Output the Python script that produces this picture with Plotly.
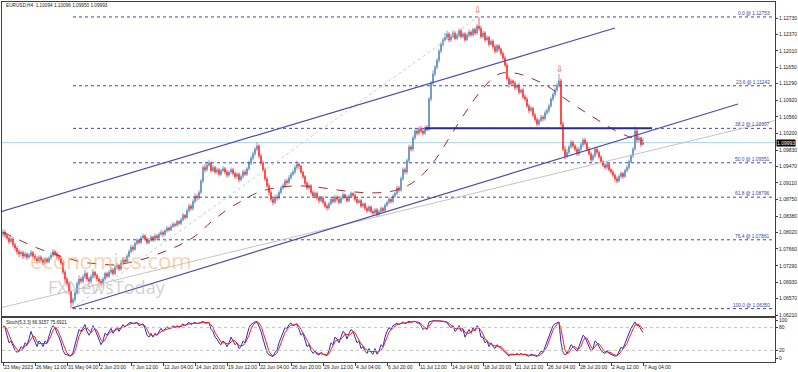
import plotly.graph_objects as go

# ---------------- data (prices in units of 0.0001) ----------------
FIRST_OPEN = 10798
CLOSES = [
10803,10796,10790,10782,10788,10775,10768,10760,10755,10758,10750,10755,10748,10752,10758,10750,
10745,10740,10748,10742,10736,10744,10738,10746,10752,10760,10756,10750,10745,10735,10715,10700,
10690,10672,10648,10655,10670,10690,10700,10695,10705,10712,10700,10695,10705,10715,10708,10700,
10695,10690,10700,10712,10706,10715,10720,10712,10725,10730,10722,10735,10742,10738,10750,10760,
10770,10765,10778,10785,10780,10790,10795,10788,10780,10785,10792,10786,10795,10790,10798,10802,
10798,10806,10812,10808,10815,10820,10818,10826,10822,10830,10840,10835,10850,10860,10855,10870,
10882,10878,10890,10915,10945,10940,10950,10955,10938,10945,10935,10940,10930,10938,10942,10935,
10928,10935,10940,10932,10925,10930,10918,10925,10935,10930,10942,10955,10965,10975,10985,10992,
10970,10955,10940,10920,10905,10890,10875,10868,10880,10878,10890,10900,10905,10915,10912,10922,
10930,10935,10945,10952,10948,10935,10925,10910,10900,10905,10890,10882,10888,10878,10872,10878,
10868,10860,10856,10865,10875,10870,10880,10875,10868,10878,10885,10880,10872,10882,10888,10884,
10875,10868,10872,10860,10865,10855,10850,10858,10848,10845,10852,10842,10848,10855,10850,10862,
10868,10875,10870,10882,10888,10900,10895,10920,10940,10935,10960,10990,10985,11010,11025,11020,
11030,11025,11020,11032,11028,11095,11130,11150,11165,11180,11200,11215,11225,11230,11238,11225,
11232,11240,11228,11235,11245,11232,11238,11225,11235,11242,11236,11248,11240,11255,11250,11232,
11240,11225,11230,11215,11222,11210,11200,11212,11205,11195,11185,11170,11140,11128,11135,11130,
11120,11125,11110,11115,11100,11095,11080,11070,11075,11060,11050,11040,11048,11055,11052,11065,
11070,11080,11095,11105,11115,11125,11135,11040,10985,10970,10978,10990,11000,10992,10985,10975,
10985,10995,11005,10998,10985,10975,10962,10970,10985,10978,10968,10958,10950,10945,10952,10940,
10935,10928,10920,10915,10925,10932,10925,10938,10945,10958,10970,10985,11025,11005,11010,10995,10999]
HIGHS = [
10810,10808,10800,10794,10795,10792,10780,10772,10765,10764,10762,10760,10758,10757,10764,10762,
10755,10750,10752,10752,10746,10748,10748,10750,10758,10766,10764,10760,10754,10750,10740,10720,
10705,10695,10676,10660,10675,10695,10708,10704,10710,10720,10716,10705,10710,10722,10718,10712,
10705,10700,10705,10716,10715,10720,10726,10724,10730,10735,10733,10740,10748,10745,10755,10765,
10776,10774,10782,10790,10788,10795,10800,10798,10792,10790,10797,10795,10800,10798,10803,10808,
10806,10810,10816,10815,10820,10825,10824,10830,10829,10835,10845,10843,10855,10866,10864,10875,
10888,10886,10895,10920,10950,10952,10958,10962,10958,10950,10948,10945,10944,10942,10948,10946,
10940,10938,10945,10944,10936,10935,10934,10930,10940,10940,10946,10960,10970,10980,10990,11000,
10996,10975,10960,10945,10925,10910,10895,10880,10885,10886,10895,10905,10910,10920,10920,10928,
10935,10940,10950,10960,10956,10950,10938,10928,10915,10910,10908,10895,10892,10892,10882,10882,
10882,10872,10865,10870,10880,10880,10885,10884,10878,10882,10890,10888,10884,10886,10892,10890,
10888,10880,10876,10876,10868,10868,10860,10862,10862,10852,10856,10856,10852,10860,10858,10866,
10872,10880,10878,10886,10892,10905,10904,10925,10945,10945,10965,10995,10995,11015,11030,11030,
11035,11036,11030,11036,11038,11100,11135,11158,11170,11185,11205,11220,11230,11240,11245,11242,
11238,11246,11244,11240,11250,11250,11242,11242,11240,11248,11246,11252,11252,11260,11275,11256,
11245,11244,11235,11234,11226,11226,11215,11216,11215,11208,11200,11190,11175,11145,11140,11138,
11135,11128,11130,11118,11120,11105,11100,11085,11080,11078,11065,11055,11052,11060,11060,11070,
11075,11085,11100,11110,11120,11130,11150,11140,11045,10992,10985,10995,11006,11004,10996,10990,
10990,11000,11010,11010,11002,10990,10980,10975,10990,10990,10982,10972,10962,10955,10958,10956,
10944,10940,10932,10925,10930,10936,10935,10942,10950,10962,10975,10990,11035,11030,11015,11012,11010]
LOWS = [
10792,10790,10785,10776,10778,10770,10762,10754,10748,10750,10744,10745,10742,10744,10748,10745,
10740,10734,10736,10738,10730,10732,10734,10734,10742,10748,10750,10744,10740,10730,10710,10692,
10684,10666,10636,10642,10650,10665,10686,10690,10690,10700,10696,10688,10690,10700,10702,10695,
10690,10684,10686,10696,10702,10702,10710,10708,10708,10720,10718,10718,10730,10734,10735,10746,
10756,10760,10762,10774,10776,10776,10786,10784,10776,10776,10782,10782,10782,10786,10786,10794,
10792,10794,10802,10804,10805,10812,10814,10815,10818,10818,10826,10830,10832,10846,10850,10850,
10866,10872,10874,10886,10910,10934,10936,10946,10934,10934,10930,10930,10925,10926,10934,10930,
10922,10924,10930,10928,10920,10920,10912,10914,10920,10926,10926,10938,10950,10960,10970,10980,
10965,10950,10935,10915,10900,10884,10870,10862,10864,10872,10874,10886,10896,10900,10906,10908,
10918,10926,10930,10940,10942,10930,10920,10906,10895,10896,10886,10878,10878,10874,10866,10868,
10864,10855,10850,10852,10862,10866,10866,10870,10864,10865,10874,10876,10868,10868,10878,10880,
10870,10864,10865,10856,10856,10850,10845,10846,10844,10840,10842,10836,10838,10845,10846,10846,
10858,10864,10866,10866,10878,10884,10890,10892,10916,10930,10930,10955,10980,10980,11005,11015,
11015,11020,11015,11016,11024,11025,11090,11125,11145,11160,11175,11195,11210,11220,11225,11220,
11220,11228,11224,11224,11230,11228,11228,11220,11222,11230,11232,11232,11236,11236,11245,11228,
11228,11220,11222,11210,11212,11205,11195,11196,11200,11190,11180,11165,11135,11120,11124,11125,
11115,11115,11105,11106,11095,11090,11075,11064,11066,11055,11045,11035,11036,11044,11046,11048,
11060,11065,11076,11090,11100,11110,11120,11035,10980,10962,10966,10974,10986,10988,10980,10970,
10970,10980,10990,10994,10980,10970,10956,10958,10966,10974,10964,10954,10946,10940,10940,10936,
10930,10924,10914,10910,10912,10920,10920,10922,10934,10940,10955,10966,10982,11000,11000,10990,10995]

STOCH_K = [
85,80,60,40,45,30,20,15,18,30,25,40,35,50,70,55,
40,30,45,40,30,45,40,60,75,85,80,65,55,40,20,10,
8,6,5,15,35,60,75,70,80,88,70,60,70,85,75,60,
45,35,45,65,60,70,78,65,75,82,70,80,88,82,88,92,
94,90,92,94,85,88,90,78,60,55,65,55,65,60,70,78,
70,75,82,78,80,85,80,85,80,85,90,85,90,94,88,92,
94,90,92,95,96,92,92,94,75,70,55,50,40,35,45,40,
30,40,55,45,35,40,25,30,45,40,60,80,88,92,95,96,
85,70,50,30,15,8,5,4,15,20,40,55,65,80,78,88,
92,85,88,90,75,60,65,45,30,35,20,12,18,10,8,15,
10,8,6,20,40,35,55,50,40,55,70,65,50,65,75,70,
55,40,45,25,30,18,12,25,15,10,25,10,18,35,30,55,
70,80,75,85,88,92,88,92,95,90,94,97,94,96,97,92,
92,85,75,80,75,95,97,98,98,98,98,97,96,95,94,85,
80,85,70,75,85,70,75,55,65,75,65,80,72,85,80,55,
55,40,45,30,40,30,25,35,30,25,20,15,8,5,10,10,
8,12,8,12,8,10,6,5,10,8,5,4,10,18,15,30,
45,60,75,85,90,93,95,40,15,8,12,22,35,30,25,18,
30,45,60,55,40,30,18,25,45,40,30,20,15,12,20,12,
10,8,5,6,18,28,25,40,50,65,78,88,95,85,85,75,66.9157]
STOCH_D = [
82,83,75,60,48,38,30,22,18,21,24,32,33,42,52,58,
55,42,38,38,38,38,38,48,58,73,80,77,67,53,38,23,
13,8,6,9,18,37,57,68,75,79,79,73,67,72,77,73,
60,47,42,48,57,65,69,71,73,74,76,77,79,83,86,87,
91,92,92,92,90,89,88,85,76,64,60,58,62,60,65,69,
73,74,76,78,80,81,82,83,82,83,85,87,88,90,91,91,
91,92,92,92,94,94,93,93,87,80,67,58,48,42,40,40,
38,37,42,47,45,40,33,32,33,38,48,60,76,87,92,94,
92,84,68,50,32,18,9,6,8,13,25,38,53,67,74,82,
86,88,88,88,84,75,67,57,47,37,28,22,17,13,12,11,
11,11,8,11,22,32,43,47,48,50,55,63,62,60,63,70,
67,55,47,37,33,24,20,18,17,17,17,15,18,21,28,40,
52,68,75,80,83,88,89,91,92,92,93,94,95,96,96,95,
94,90,84,80,77,83,89,97,98,98,98,98,97,96,95,91,
86,83,78,77,77,77,77,67,65,65,68,73,72,79,79,73,
63,50,47,38,38,33,32,30,30,30,25,20,14,9,8,8,
9,10,9,11,9,10,8,7,7,8,8,6,6,11,14,21,
30,45,60,73,83,89,93,76,50,21,12,14,23,29,30,24,
24,31,45,53,52,42,29,24,29,37,38,30,22,16,16,15,
14,10,8,6,10,17,24,31,38,52,64,77,87,89,88,82,75.6921]

# moving average, read every 8 bars
MA_BARS = [0,8,16,24,32,40,48,56,64,72,80,88,96,104,112,120,128,136,144,152,160,168,176,184,192,
           200,208,216,224,232,240,248,256,264,272,280,288,296,304,312,320]
MA_VALS = [1.0803,1.0786,1.0770,1.0757,1.0746,1.0737,1.0733,1.0731,1.0737,1.0746,1.0759,1.0774,1.0794,
           1.0825,1.0852,1.0873,1.0891,1.0900,1.0904,1.0904,1.0900,1.0895,1.0891,1.0889,1.0891,1.0900,
           1.0922,1.0961,1.1016,1.1071,1.1119,1.1150,1.1152,1.1141,1.1124,1.1099,1.1075,1.1053,1.1031,
           1.1014,1.1003]

TICK_BARS = [0,16,32,48,64,80,96,112,128,144,160,176,192,208,224,240,256,272,288,304,320]
TICK_TEXT = ["23 May 2023","26 May 12:00","31 May 04:00","2 Jun 20:00","7 Jun 12:00","12 Jun 04:00",
             "14 Jun 20:00","19 Jun 12:00","22 Jun 04:00","26 Jun 20:00","29 Jun 12:00","4 Jul 04:00",
             "6 Jul 20:00","11 Jul 12:00","14 Jul 04:00","18 Jul 20:00","21 Jul 12:00","26 Jul 04:00",
             "28 Jul 20:00","2 Aug 12:00","7 Aug 04:00"]
PRICE_TICKS = [1.12730,1.12370,1.12010,1.11650,1.11290,1.10920,1.10560,1.10200,1.09830,1.09470,
               1.09110,1.08750,1.08380,1.08020,1.07660,1.07290,1.06930,1.06570,1.06210]
PRICE_TEXT = ["%.5f" % v for v in PRICE_TICKS]

FIB_HIGH = 1.12753
FIB_LOW = 1.06350
FIB_PCT = [0.0, 23.6, 38.2, 50.0, 61.8, 76.4, 100.0]
FIB_START_BAR = 35
FIB_HIGH_BAR = 237.5
FIB_LOW_BAR = 34.5

UPPER_CHANNEL = [(-1.5, 1.08471), (306, 1.12510)]
LOWER_CHANNEL = [(34.5, 1.06364), (367.5, 1.10842)]
GRAY_LINE = [(-1.5, 1.06364), (386, 1.10480)]
H_LINE = [(211, 1.10307), (324.5, 1.10307)]
CURRENT = 1.09993
FRACTALS = [(237.5, 1.12895), (278.5, 1.11620)]
HEADER = "EURUSD,H4  1.10094 1.10096 1.09950 1.09993"
STOCH_HEADER = "Stoch(5,3,3) 66.9157 75.6921"

# ---------------- figure ----------------
W, H = 798, 372
n = len(CLOSES)
bars = list(range(n))
closes = [c / 10000 for c in CLOSES]
highs = [c / 10000 for c in HIGHS]
lows = [c / 10000 for c in LOWS]
opens = [FIRST_OPEN / 10000] + closes[:-1]

FONT = "Liberation Sans"
fig = go.Figure()

fig.add_trace(go.Candlestick(
    x=bars, open=opens, high=highs, low=lows, close=closes,
    xaxis="x2", yaxis="y",
    increasing=dict(line=dict(color="#4a7fb5", width=0.7), fillcolor="#4a7fb5"),
    decreasing=dict(line=dict(color="#ff1a1a", width=0.7), fillcolor="#ff1a1a"),
    whiskerwidth=0, showlegend=False, hoverinfo="skip"))

fig.add_trace(go.Scatter(x=MA_BARS, y=MA_VALS, mode="lines", xaxis="x2", yaxis="y",
                         line=dict(color="#a52a2a", width=1, dash="dash", shape="spline"),
                         showlegend=False, hoverinfo="skip"))

fig.add_trace(go.Scatter(x=bars, y=STOCH_K, mode="lines", xaxis="x", yaxis="y2",
                         line=dict(color="#2a2ad0", width=1), showlegend=False, hoverinfo="skip"))
fig.add_trace(go.Scatter(x=bars, y=STOCH_D, mode="lines", xaxis="x", yaxis="y2",
                         line=dict(color="#ff2020", width=1), showlegend=False, hoverinfo="skip"))

shapes = []
def seg(p0, p1, color, width=1, dash="solid", xref="x2", yref="y"):
    shapes.append(dict(type="line", xref=xref, yref=yref, x0=p0[0], y0=p0[1], x1=p1[0], y1=p1[1],
                       line=dict(color=color, width=width, dash=dash), layer="above"))

# current price line
shapes.append(dict(type="line", xref="paper", yref="y", x0=2/W, x1=775/W, y0=CURRENT, y1=CURRENT,
                   line=dict(color="#a8d4e6", width=1), layer="below"))
# fib levels
fib_rng = FIB_HIGH - FIB_LOW
annotations = []
for p in FIB_PCT:
    lvl = FIB_HIGH - p / 100 * fib_rng
    seg((FIB_START_BAR, lvl), (386, lvl), "#4646b4", 1, "dot")
    annotations.append(dict(xref="x2", yref="y", x=384.5, y=lvl, xanchor="right", yanchor="bottom",
                            text="%.1f @ %.5f" % (p, lvl), showarrow=False,
                            font=dict(family=FONT, size=4.8, color="#3c3cb4"), yshift=-1))
seg((FIB_LOW_BAR, FIB_LOW), (FIB_HIGH_BAR, FIB_HIGH), "#c8c8dc", 1, "dot")
seg(GRAY_LINE[0], GRAY_LINE[1], "#c4c4c4", 1)
seg(UPPER_CHANNEL[0], UPPER_CHANNEL[1], "#4a4ab0", 1.2)
seg(LOWER_CHANNEL[0], LOWER_CHANNEL[1], "#4a4ab0", 1.2)
seg(H_LINE[0], H_LINE[1], "#2a2a9a", 2)
# stoch levels
for lv in (20, 80):
    shapes.append(dict(type="line", xref="paper", yref="y2", x0=2/W, x1=775/W, y0=lv, y1=lv,
                       line=dict(color="#c0c0c0", width=1, dash="dot")))

for fx, fy in FRACTALS:
    annotations.append(dict(xref="x2", yref="y", x=fx, y=fy, text="⇩", showarrow=False,
                            xanchor="center", yanchor="middle",
                            font=dict(family="DejaVu Sans", size=9, color="#ff5a36")))

annotations += [
    dict(xref="paper", yref="paper", x=3.5/W, y=1-6/H, xanchor="left", yanchor="middle", text=HEADER,
         showarrow=False, font=dict(family=FONT, size=4.7, color="#202020")),
    dict(xref="paper", yref="paper", x=3.5/W, y=1-322/H, xanchor="left", yanchor="middle", text=STOCH_HEADER,
         showarrow=False, font=dict(family=FONT, size=4.6, color="#202020")),
    dict(xref="paper", yref="y", x=775.5/W, y=CURRENT, xanchor="left", yanchor="middle", text="1.09993",
         showarrow=False, bgcolor="#000000", borderpad=0,
         font=dict(family=FONT, size=5, color="#ffffff")),
    dict(xref="paper", yref="paper", x=111/W, y=1-260/H, xanchor="center", yanchor="middle",
         text="economies.com", showarrow=False,
         font=dict(family="Open Sans", size=22, color="rgba(248,170,110,0.55)")),
    dict(xref="paper", yref="paper", x=107/W, y=1-287/H, xanchor="center", yanchor="middle",
         text="FXNewsToday", showarrow=False,
         font=dict(family="Open Sans", size=18, color="rgba(150,150,150,0.45)")),
]

axis_font = dict(family=FONT, size=5, color="#202020")
fig.update_layout(
    width=W, height=H, margin=dict(l=0, r=0, t=0, b=0), boxgap=0.5,
    paper_bgcolor="white", plot_bgcolor="white", template="none",
    xaxis=dict(domain=[2/W, 775/W], anchor="y2", range=[-0.5, 386], showgrid=False, zeroline=False,
               tickmode="array", tickvals=TICK_BARS, ticktext=TICK_TEXT, ticks="outside", ticklen=3,
               tickcolor="#404040", ticklabelposition="outside right", tickangle=0,
               tickfont=axis_font,
               showline=True, mirror=True, linecolor="#404040", linewidth=1,
               rangeslider=dict(visible=False), fixedrange=True, automargin=False),
    xaxis2=dict(domain=[2/W, 775/W], anchor="y", matches="x", showticklabels=False, showgrid=False,
                zeroline=False, ticks="", showline=True, mirror=True, linecolor="#404040", linewidth=1,
                rangeslider=dict(visible=False), automargin=False),
    yaxis=dict(domain=[1-316/H, 1-2/H], anchor="x2", side="right", range=[1.06188, 1.130812],
               tickmode="array", tickvals=PRICE_TICKS, ticktext=PRICE_TEXT, ticks="outside", ticklen=2,
               tickcolor="#404040", tickfont=axis_font, showgrid=False, zeroline=False,
               showline=True, mirror=True, linecolor="#404040", linewidth=1, automargin=False),
    yaxis2=dict(domain=[1-362/H, 1-318/H], anchor="x", side="right", range=[-10.53, 105.26],
                tickmode="array", tickvals=[100, 80, 20, 0], ticktext=["100", "80", "20", "0"],
                ticks="outside", ticklen=2, tickcolor="#404040", tickfont=axis_font, showgrid=False,
                zeroline=False, showline=True, mirror=True, linecolor="#404040", linewidth=1,
                automargin=False),
    shapes=shapes, annotations=annotations, hovermode=False,
)

fig.write_html("out.html", config={"displayModeBar": False},
               post_script="document.body.style.margin='0';document.body.style.padding='0';")
